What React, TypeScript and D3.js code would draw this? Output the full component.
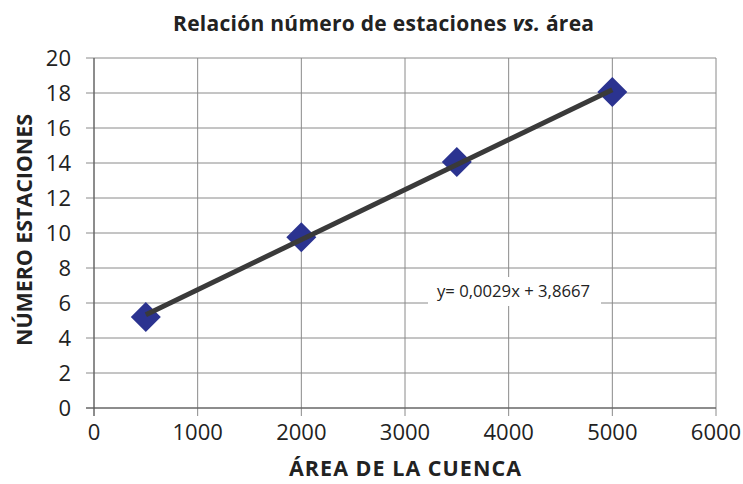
import React from "react";
import * as d3 from "d3";

const areas = [500, 2000, 3500, 5000];
const stations = [5.2, 9.75, 14.05, 18.05];
const xTicks = [0, 1000, 2000, 3000, 4000, 5000, 6000];
const yTicks = [0, 2, 4, 6, 8, 10, 12, 14, 16, 18, 20];
const title = "Relación número de estaciones";
const xLabel = "ÁREA DE LA CUENCA";
const yLabel = "NÚMERO ESTACIONES";
const equation = "y= 0,0029x + 3,8667";

export default function App() {
  const W = 743, H = 484;
  const m = { left: 94, right: 716, top: 58, bottom: 408 };
  const x = d3.scaleLinear().domain([0, 6000]).range([m.left, m.right]);
  const y = d3.scaleLinear().domain([0, 20]).range([m.bottom, m.top]);
  const font = "'Open Sans', 'Noto Sans', sans-serif";
  const grid = "#8a8a8a";

  // least squares fit
  const mx = d3.mean(areas)!;
  const my = d3.mean(stations)!;
  const slope =
    d3.sum(areas.map((a, i) => (a - mx) * (stations[i] - my))) /
    d3.sum(areas.map((a) => (a - mx) ** 2));
  const intercept = my - slope * mx;
  const xMin = d3.min(areas)!, xMax = d3.max(areas)!;
  const line = d3.line<number>().x((d) => x(d)).y((d) => y(slope * d + intercept));

  const diamond = d3.symbol().type(d3.symbolSquare).size(450)();

  return (
    <svg width={W} height={H} style={{ position: "absolute", left: 0, top: 0, background: "#fff", fontFamily: font }}>
      <rect width={W} height={H} fill="#fff" />
      <text x={383.5} y={31} textAnchor="middle" style={{ fontSize: "21px", fontWeight: 700 }} fill="#222" textLength={421} lengthAdjust="spacing">
        {title} <tspan fontStyle="italic">vs.</tspan> área
      </text>
      {yTicks.map((t) => (
        <line key={"y" + t} x1={m.left - 8} x2={m.right} y1={y(t)} y2={y(t)} stroke={grid} strokeWidth={1} />
      ))}
      {xTicks.map((t) => (
        <line key={"x" + t} x1={x(t)} x2={x(t)} y1={m.top} y2={m.bottom + 8} stroke={grid} strokeWidth={1} />
      ))}
      <line x1={m.left} x2={m.left} y1={m.top} y2={m.bottom + 8} stroke="#555" strokeWidth={1} />
      <line x1={m.left - 8} x2={m.right} y1={m.bottom} y2={m.bottom} stroke="#555" strokeWidth={1} />
      {yTicks.map((t) => (
        <text key={"yl" + t} x={71} y={y(t) + 7.5} textAnchor="end" style={{ fontSize: "22px" }} fill="#222">
          {t}
        </text>
      ))}
      {xTicks.map((t) => (
        <text key={"xl" + t} x={x(t)} y={440} textAnchor="middle" style={{ fontSize: "22px" }} fill="#222">
          {t}
        </text>
      ))}
      <text x={405} y={476} textAnchor="middle" style={{ fontSize: "21.5px", fontWeight: 700 }} fill="#222" textLength={232} lengthAdjust="spacing">
        {xLabel}
      </text>
      <text
        transform={`translate(32,${230}) rotate(-90)`}
        textAnchor="middle"
        style={{ fontSize: "21.5px", fontWeight: 700 }}
        fill="#222"
        textLength={232}
        lengthAdjust="spacing"
      >
        {yLabel}
      </text>
      <rect x={428} y={277} width={173} height={29} fill="#fff" />
      <text x={513.5} y={297} textAnchor="middle" style={{ fontSize: "16.5px" }} fill="#222" textLength={153} lengthAdjust="spacingAndGlyphs">
        {equation}
      </text>
      {areas.map((a, i) => (
        <path
          key={"p" + i}
          d={diamond!}
          transform={`translate(${x(a)},${y(stations[i])}) rotate(45)`}
          fill="#2b3390"
        />
      ))}
      <path d={line([xMin, xMax])!} stroke="#3a3a3a" strokeWidth={5} fill="none" />
    </svg>
  );
}
